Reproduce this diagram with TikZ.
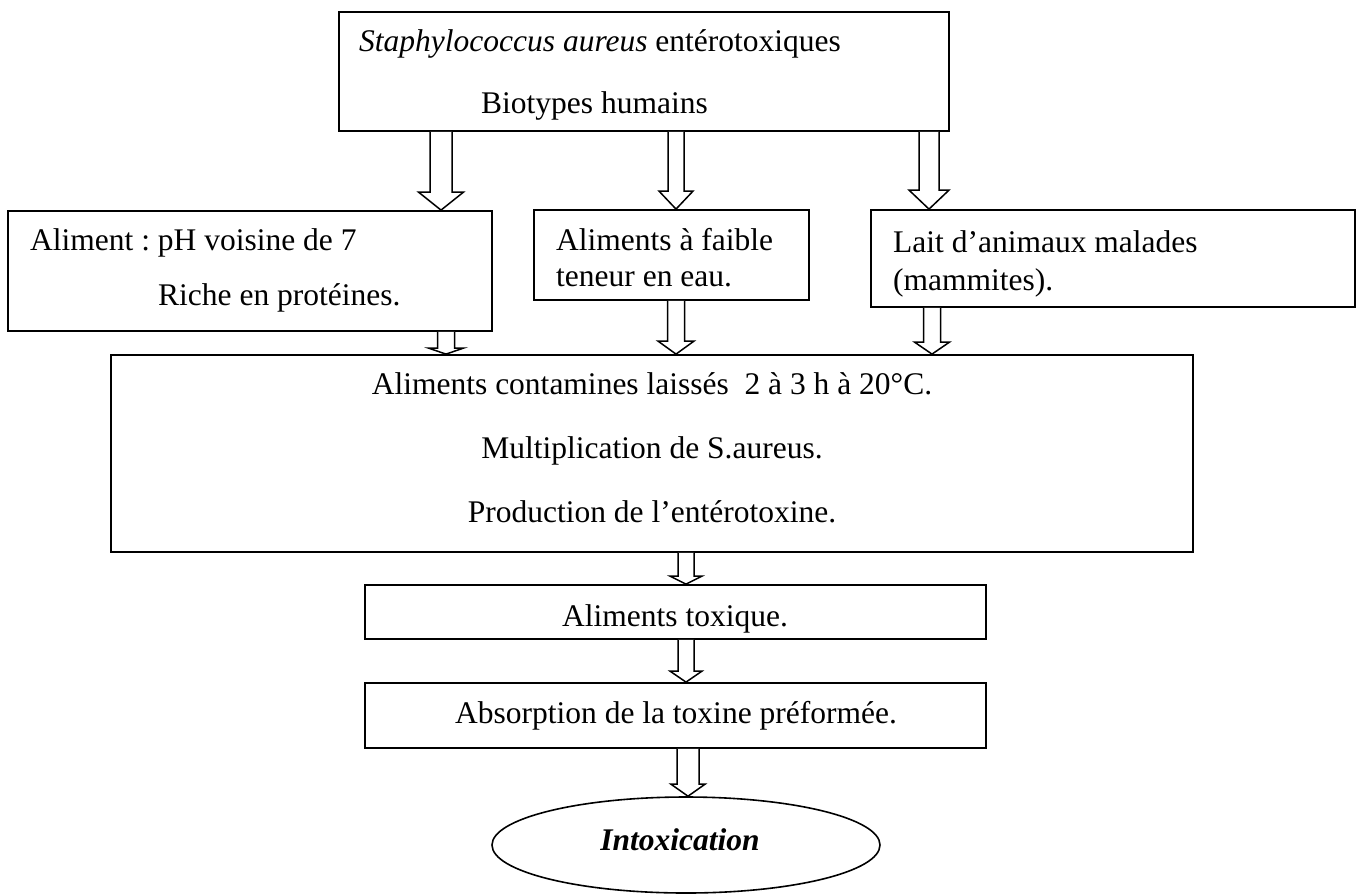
\documentclass[tikz,border=0pt]{standalone}
\usepackage{fontspec}
\setmainfont{Liberation Serif}
\frenchspacing
\usetikzlibrary{calc,shapes.geometric}
\newcommand\hollowarrow[5]{%
  \draw[harrow] let \p1=(#1), \p2=(#2) in
    (\x1-#3pt,\y1) -- (\x1-#3pt,\y2+#5pt) -- (\x1-#4pt,\y2+#5pt) -- (\x2,\y2)
    -- (\x1+#4pt,\y2+#5pt) -- (\x1+#3pt,\y2+#5pt) -- (\x1+#3pt,\y1);}
\tikzset{
  box/.style={draw, line width=1.8pt, rectangle, inner sep=0pt},
  txt/.style={inner sep=0pt, font=\fontsize{31.5}{38}\selectfont\frenchspacing},
  harrow/.style={draw, line width=1.5pt, line join=miter, fill=white},
}
\begin{document}
\begin{tikzpicture}[x=1pt,y=-1pt]
\useasboundingbox[fill=white] (0,0) rectangle (1360,895);
% boxes
\node[box, minimum width=610pt, minimum height=119pt] (top) at (644,71.5) {};
\node[box, minimum width=484pt, minimum height=120pt] (b2) at (250,271) {};
\node[box, minimum width=275pt, minimum height=90pt] (b3) at (671.5,255) {};
\node[box, minimum width=484pt, minimum height=97pt] (b4) at (1113,258.5) {};
\node[box, minimum width=1082pt, minimum height=197pt] (big) at (652,453.5) {};
\node[box, minimum width=621pt, minimum height=54pt] (tox) at (675.5,612) {};
\node[box, minimum width=621pt, minimum height=65pt] (abs) at (675.5,715.5) {};
\node[draw, ellipse, line width=1.6pt, inner sep=0pt, minimum width=388pt, minimum height=96pt] (intox) at (686,845) {};
% texts
\node[txt, anchor=base west] (t1) at (359,51) {\textit{Staphylococcus aureus} entérotoxiques};
\node[txt, anchor=base west] (t2) at (481,113) {Biotypes humains};
\node[txt, anchor=base west] (t3) at (30,250) {Aliment : pH voisine de 7};
\node[txt, anchor=base west] (t4) at (158,305) {Riche en protéines.};
\node[txt, anchor=base west] (t5) at (556,250) {Aliments à faible};
\node[txt, anchor=base west] (t6) at (556,286) {teneur en eau.};
\node[txt, anchor=base west] (t7) at (893,252) {Lait d’animaux malades};
\node[txt, anchor=base west] (t8) at (893,290) {(mammites).};
\node[txt, anchor=base] (t9) at (652,394) {Aliments contamines laissés\ \ 2 à 3 h à 20°C.};
\node[txt, anchor=base] (t10) at (652,458) {Multiplication de S.aureus.};
\node[txt, anchor=base] (t11) at (652,522) {Production de l’entérotoxine.};
\node[txt, anchor=base] (t12) at (675,626) {Aliments toxique.};
\node[txt, anchor=base] (t13) at (676,723) {Absorption de la toxine préformée.};
\node[txt, anchor=base] (t14) at (680,850) {\textbf{\textit{Intoxication}}};
% arrow x positions
\coordinate (xa1) at (441,0);
\coordinate (xa2) at (676,0);
\coordinate (xa3) at (929,0);
\coordinate (xb1) at (446,0);
\coordinate (xb2) at (676,0);
\coordinate (xb3) at (932,0);
\coordinate (xc1) at (686,0);
\coordinate (xc3) at (688,0);
% arrows
\hollowarrow{top.south -| xa1}{b2.north -| xa1}{11}{22.5}{18}
\hollowarrow{top.south -| xa2}{b3.north -| xa2}{8}{17}{18}
\hollowarrow{top.south -| xa3}{b4.north -| xa3}{10}{20}{19}
\hollowarrow{b2.south -| xb1}{big.north -| xb1}{8.5}{17.5}{6}
\hollowarrow{b3.south -| xb2}{big.north -| xb2}{8.5}{18}{13}
\hollowarrow{b4.south -| xb3}{big.north -| xb3}{8.5}{17.5}{12}
\hollowarrow{big.south -| xc1}{tox.north -| xc1}{8}{16}{8}
\hollowarrow{tox.south -| xc1}{abs.north -| xc1}{8}{16}{11}
\hollowarrow{abs.south -| xc3}{intox.north -| xc3}{11}{17}{12}
\end{tikzpicture}
\end{document}
